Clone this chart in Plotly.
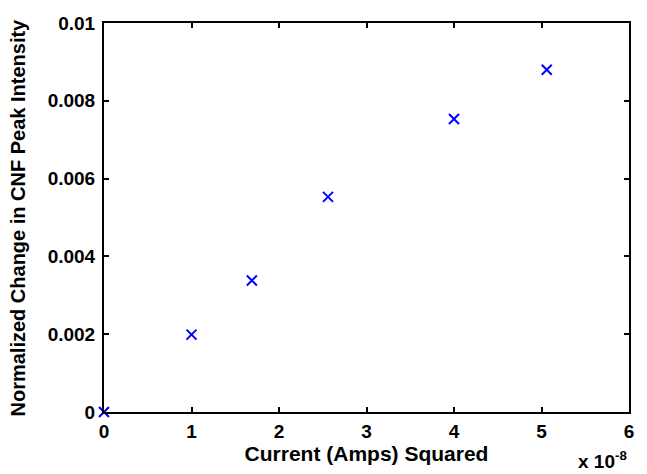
import plotly.graph_objects as go

current_sq = [0.0, 1.0, 1.69, 2.56, 4.0, 5.06]          # x 1e-8
norm_change = [0.0, 0.00199, 0.00338, 0.00553, 0.00753, 0.00880]
x_ticks = [0, 1, 2, 3, 4, 5, 6]
y_ticks = [0, 0.002, 0.004, 0.006, 0.008, 0.01]
y_tick_labels = ["0", "0.002", "0.004", "0.006", "0.008", "0.01"]

FONT = "Liberation Sans"

def b(s):
    return "<b>" + s + "</b>"

fig = go.Figure()
fig.add_trace(go.Scatter(
    x=current_sq, y=norm_change, mode="markers",
    marker=dict(symbol="x-thin", size=10, color="rgb(0,0,255)",
                line=dict(width=2, color="rgb(0,0,255)")),
    cliponaxis=False, showlegend=False))

axis_common = dict(showgrid=False, zeroline=False, showline=True, linecolor="black",
                   linewidth=2, mirror="allticks", ticks="inside", ticklen=5,
                   tickwidth=2, tickcolor="black")

fig.update_layout(
    xaxis=dict(range=[0, 6], tickvals=x_ticks, ticktext=[b(str(v)) for v in x_ticks],
               tickfont=dict(family=FONT, size=19, color="black"),
               ticklabelstandoff=1,
               title=dict(text=b("Current (Amps) Squared"), standoff=2,
                          font=dict(family=FONT, size=21, color="black")),
               **axis_common),
    yaxis=dict(range=[0, 0.01], tickvals=y_ticks, ticktext=[b(t) for t in y_tick_labels],
               tickfont=dict(family=FONT, size=19, color="black"),
               ticklabelstandoff=3,
               **axis_common),
)

fig.add_annotation(x=0, y=0.5, xref="paper", yref="paper", xanchor="center", yanchor="middle",
                   xshift=-87, showarrow=False, textangle=-90,
                   text=b("Normalized Change in CNF Peak Intensity"),
                   font=dict(family=FONT, size=20, color="black"))

fig.add_annotation(x=1, y=0, xref="paper", yref="paper", xanchor="right", yanchor="top",
                   xshift=0, yshift=-34, showarrow=False,
                   text=b("x 10<sup>-8</sup>"),
                   font=dict(family=FONT, size=19, color="black"))

fig.update_layout(width=647, height=474, paper_bgcolor="white", plot_bgcolor="white",
                  margin=dict(l=104, r=18, t=23, b=62))

fig.write_html("out.html")
